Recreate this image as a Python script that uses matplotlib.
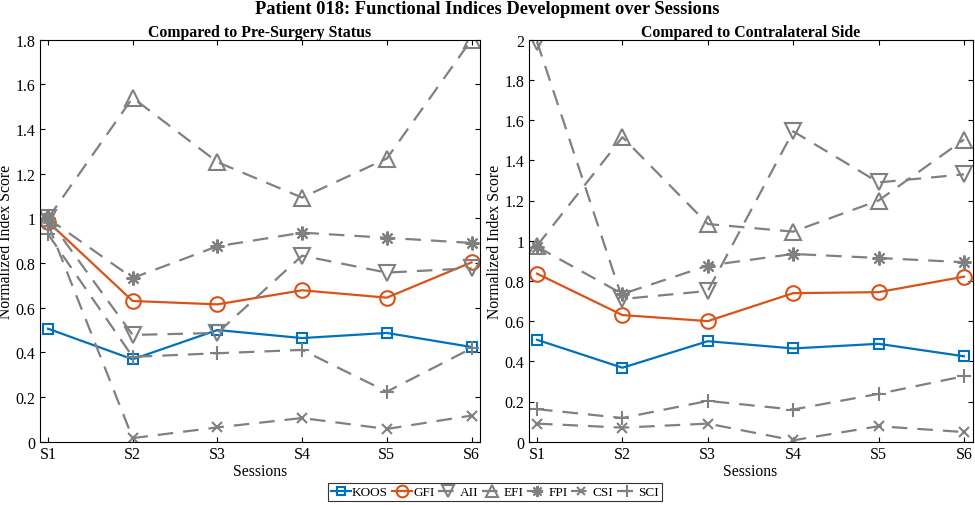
import numpy as np
import matplotlib.pyplot as plt

plt.rcParams['font.family'] = ['Liberation Serif', 'DejaVu Serif']

sessions = ['S1', 'S2', 'S3', 'S4', 'S5', 'S6']
names = ['KOOS', 'GFI', 'AII', 'EFI', 'FPI', 'CSI', 'SCI']

# compared to pre-surgery status
pre_koos = [0.506, 0.369, 0.500, 0.464, 0.487, 0.424]
pre_gfi = [0.985, 0.630, 0.615, 0.678, 0.645, 0.803]
pre_aii = [1.000, 0.478, 0.487, 0.833, 0.757, 0.777]
pre_efi = [1.000, 1.540, 1.252, 1.093, 1.268, 1.800]
pre_fpi = [1.000, 0.733, 0.875, 0.936, 0.913, 0.890]
pre_csi = [0.975, 0.016, 0.064, 0.106, 0.057, 0.117]
pre_sci = [0.930, 0.380, 0.396, 0.411, 0.224, 0.418]

# compared to contralateral side
con_koos = [0.507, 0.368, 0.500, 0.464, 0.487, 0.425]
con_gfi = [0.836, 0.630, 0.600, 0.739, 0.744, 0.821]
con_aii = [1.990, 0.710, 0.750, 1.544, 1.290, 1.330]
con_efi = [0.975, 1.515, 1.083, 1.045, 1.200, 1.503]
con_fpi = [0.970, 0.735, 0.876, 0.934, 0.914, 0.893]
con_csi = [0.090, 0.070, 0.090, 0.007, 0.077, 0.048]
con_sci = [0.162, 0.118, 0.203, 0.160, 0.238, 0.326]

blue = '#0072BD'
orange = '#D95319'
gray = '#808080'
styles = [
    dict(color=blue, ls='-', marker='s', ms=7.5),
    dict(color=orange, ls='-', marker='o', ms=10.5),
    dict(color=gray, ls='--', marker='v', ms=11),
    dict(color=gray, ls='--', marker='^', ms=11),
    dict(color=gray, ls='--', marker=(8, 2, 0), ms=10),
    dict(color=gray, ls='--', marker='x', ms=7),
    dict(color=gray, ls='--', marker='+', ms=10),
]

fig = plt.figure(figsize=(9.75, 5.06), dpi=100)
ax1 = fig.add_axes([39.5/975, 1 - 442.7/506, 440.5/975, 402/506])
ax2 = fig.add_axes([528.5/975, 1 - 442.7/506, 444/975, 402/506])

x = np.arange(1, 7)


def draw(ax, series, title, ymax, ylab_x):
    lines = []
    for s, st, name in zip(series, styles, names):
        ln, = ax.plot(x, s, color=st['color'], ls=st['ls'], marker=st['marker'],
                      ms=st['ms'], mfc='none', mec=st['color'], mew=1.5, lw=1.6,
                      dashes=(7, 4.5) if st['ls'] == '--' else (None, None),
                      label=name)
        lines.append(ln)
    ax.set_xlim(0.9, 6.1)
    ax.set_ylim(0, ymax)
    ax.set_xticks(x)
    ax.set_xticklabels(sessions)
    ticks = np.arange(0, ymax + 0.01, 0.2)
    ax.set_yticks(ticks)
    ax.set_yticklabels(['%g' % round(v, 1) for v in ticks])
    ax.tick_params(direction='in', top=True, right=True, labelsize=11.5,
                   length=3.5, width=0.8, pad=3)
    for sp in ax.spines.values():
        sp.set_linewidth(0.8)
    ax.set_xlabel('Sessions', fontsize=11.3, labelpad=1)
    ax.set_ylabel('Normalized Index Score', fontsize=11.3)
    ax.yaxis.set_label_coords(ylab_x, 0.5)
    ax.set_title(title, fontsize=11.4, fontweight='bold', pad=3)
    return lines


lines = draw(ax1, [pre_koos, pre_gfi, pre_aii, pre_efi, pre_fpi, pre_csi, pre_sci],
             'Compared to Pre-Surgery Status', 1.8, -0.057)
draw(ax2, [con_koos, con_gfi, con_aii, con_efi, con_fpi, con_csi, con_sci],
     'Compared to Contralateral Side', 2.0, -0.058)

fig.suptitle('Patient 018: Functional Indices Development over Sessions',
             fontsize=13.3, fontweight='bold', y=0.998)

leg = fig.legend(handles=lines, loc='center', bbox_to_anchor=(495/975, 1 - 493/506),
                 ncol=7, fontsize=9.5, frameon=True, fancybox=False,
                 edgecolor='black', handlelength=1.5, handletextpad=0.1,
                 columnspacing=0.3, borderpad=0.2, borderaxespad=0,
                 markerscale=0.8)
leg.get_frame().set_linewidth(0.8)

plt.savefig('out.png', dpi=100)
